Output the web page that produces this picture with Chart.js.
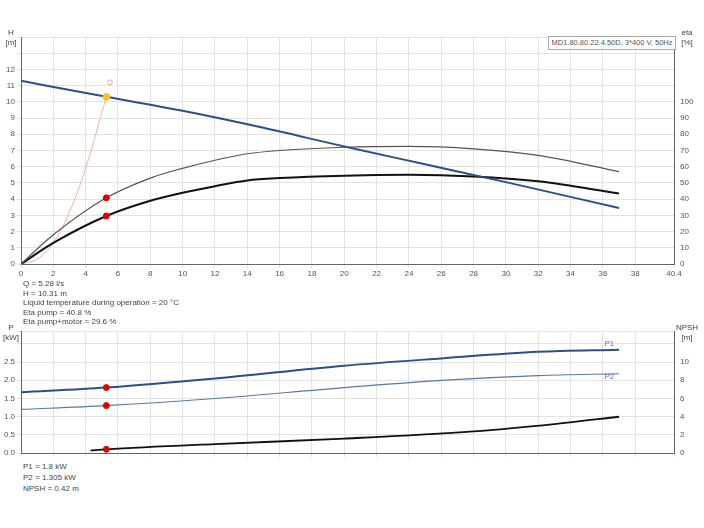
<!DOCTYPE html>
<html>
<head>
<meta charset="utf-8">
<script src="https://cdn.jsdelivr.net/npm/chart.js@4"></script>
<style>
  body { margin: 0; background: #fff; font-family: Arial, "Liberation Sans", sans-serif; }
  #wrap { position: relative; width: 704px; height: 528px; }
  canvas { position: absolute; }
  .txt { position: absolute; font-size: 8px; color: #444; line-height: 9.5px; }
  #title { position: absolute; left: 548px; top: 36px; width: 126px; height: 12px; border: 1px solid #aaa;
           font-size: 7.5px; color: #555; line-height: 12px; text-align: center; background: #fff;
           white-space: nowrap; overflow: hidden; }
</style>
</head>
<body>
<div id="wrap">
  <canvas id="top" width="704" height="252" style="left:0;top:30px;width:704px;height:252px"></canvas>
  <canvas id="bottom" width="704" height="135" style="left:0;top:325px;width:704px;height:135px"></canvas>
  <div id="title">MD1.80.80.22.4.50D, 3*400 V, 50Hz</div>
  <div class="txt" style="left:23px;top:279px">Q = 5.28 l/s<br>H = 10.31 m<br>Liquid temperature during operation = 20 °C<br>Eta pump = 40.8 %<br>Eta pump+motor = 29.6 %</div>
  <div class="txt" style="left:23px;top:461px;line-height:11px">P1 = 1.8 kW<br>P2 = 1.305 kW<br>NPSH = 0.42 m</div>
</div>
<script>
// Q-H curve
const qH = [0, 5.28, 10, 15, 20, 25, 30, 37];
const hVals = [11.3, 10.31, 9.45, 8.4, 7.25, 6.15, 5.05, 3.45];
// efficiency curves (%)
const qEta = [0, 2, 5.28, 8, 10, 12, 14, 16, 20, 24, 28, 32, 37];
const etaPump = [0, 18, 40.8, 53, 59, 64, 68, 70, 72, 72.5, 71, 67, 57];
const etaTotal = [0, 13, 29.6, 39, 44, 48, 51.5, 53, 54.5, 55, 54, 51, 43.5];
// system curve
const qSys = [0, 1, 2, 3, 4, 5.28];
const hSys = [0, 0.3, 1.3, 3.2, 5.9, 10.31];
// power and NPSH
const qP = [0, 5.28, 12, 20, 26, 32, 37];
const p1Vals = [1.67, 1.8, 2.05, 2.4, 2.6, 2.78, 2.84];
const p2Vals = [1.2, 1.305, 1.5, 1.8, 2.0, 2.13, 2.18];
const qNpsh = [4.3, 5.28, 12, 20, 28, 33, 37];
const npshVals = [0.3, 0.42, 1.0, 1.6, 2.4, 3.2, 4.0];

const dutyQ = 5.28;

function pts(xs, ys) { return xs.map((x, i) => ({ x: x, y: ys[i] })); }

const blue = "#2b4f8a";
const grid = "#e3e3e3";
const tickFont = { size: 8, family: "Arial" };

function line(data, color, width, axis) {
  return { data: data, borderColor: color, borderWidth: width, pointRadius: 0,
           cubicInterpolationMode: "monotone", yAxisID: axis, fill: false };
}
function dot(x, y, color, axis, r) {
  return { type: "scatter", data: [{ x: x, y: y }], backgroundColor: color, borderColor: color,
           pointRadius: r || 3, yAxisID: axis };
}

// draws the unit labels at top of axes
function unitPlugin(left, right) {
  return {
    id: "units",
    afterDraw(chart) {
      const c = chart.ctx, a = chart.chartArea;
      c.save();
      c.fillStyle = "#444";
      c.font = "8px Arial";
      c.textAlign = "center";
      c.fillText(left[0], 11, a.top - 2);
      c.fillText(left[1], 11, a.top + 8);
      c.fillText(right[0], a.right + 13, a.top - 2);
      c.fillText(right[1], a.right + 13, a.top + 8);
      c.restore();
    }
  };
}

const fixW = (w) => (s) => { s.width = w; };

new Chart(document.getElementById("top"), {
  type: "line",
  data: {
    datasets: [
      dot(dutyQ, 10.31, "#f5c518", "y", 3.5),
      { type: "scatter", data: [{ x: 5.5, y: 11.2 }], borderColor: "#f0a080", backgroundColor: "transparent",
        pointRadius: 2.5, borderWidth: 0.8, yAxisID: "y" },
      dot(dutyQ, 40.8, "#e00000", "y2"),
      dot(dutyQ, 29.6, "#e00000", "y2"),
      line(pts(qH, hVals), blue, 2, "y"),
      line(pts(qEta, etaPump), "#555", 1.2, "y2"),
      line(pts(qEta, etaTotal), "#111", 2, "y2"),
      line(pts(qSys, hSys), "#f0a080", 0.8, "y")
    ]
  },
  options: {
    responsive: false, animation: false, devicePixelRatio: 1,
    layout: { padding: { top: 7, left: 0, right: 0 } },
    plugins: { legend: { display: false }, tooltip: { enabled: false } },
    scales: {
      x: { type: "linear", min: 0, max: 40.4, afterFit: (s) => { s.height = 18; },
           grid: { color: grid, tickLength: 4 },
           border: { color: "#666" },
           ticks: { stepSize: 2, font: tickFont, color: "#555", maxRotation: 0, padding: 1,
                    callback: (v) => (v === 40 ? "Q [l/s]" : v) } },
      y: { min: 0, max: 14, afterFit: fixW(21),
           grid: { color: grid, tickLength: 4 }, border: { color: "#666" },
           ticks: { stepSize: 1, font: tickFont, color: "#555", padding: 2,
                    callback: (v) => (v <= 12 ? v : "") } },
      y2: { position: "right", min: 0, max: 140, afterFit: fixW(30),
            grid: { display: false, tickLength: 4 }, border: { color: "#666" },
            ticks: { stepSize: 10, font: tickFont, color: "#555", padding: 2,
                     callback: (v) => (v <= 100 ? v : "") } }
    }
  },
  plugins: [unitPlugin(["H", "[m]"], ["eta", "[%]"])]
});

new Chart(document.getElementById("bottom"), {
  type: "line",
  data: {
    datasets: [
      dot(dutyQ, 1.8, "#e00000", "y"),
      dot(dutyQ, 1.305, "#e00000", "y"),
      dot(dutyQ, 0.42, "#e00000", "y2"),
      line(pts(qP, p1Vals), blue, 2, "y"),
      line(pts(qP, p2Vals), "#5a78a8", 1.2, "y"),
      line(pts(qNpsh, npshVals), "#111", 1.8, "y2")
    ]
  },
  options: {
    responsive: false, animation: false, devicePixelRatio: 1,
    layout: { padding: { top: 5 } },
    plugins: { legend: { display: false }, tooltip: { enabled: false } },
    scales: {
      x: { type: "linear", min: 0, max: 40.4, afterFit: (s) => { s.height = 6; },
           grid: { color: grid, tickLength: 4 }, border: { color: "#666" },
           ticks: { stepSize: 2, display: false } },
      y: { min: 0, max: 3.33, afterFit: fixW(21),
           grid: { color: grid, tickLength: 4 }, border: { color: "#666" },
           ticks: { stepSize: 0.5, font: tickFont, color: "#555", padding: 2,
                    callback: (v) => (v <= 2.5 ? v.toFixed(1) : "") } },
      y2: { position: "right", min: 0, max: 13.32, afterFit: fixW(30),
            grid: { display: false, tickLength: 4 }, border: { color: "#666" },
            ticks: { stepSize: 2, font: tickFont, color: "#555", padding: 2,
                     callback: (v) => (v <= 10 ? v : "") } }
    }
  },
  plugins: [unitPlugin(["P", "[kW]"], ["NPSH", "[m]"]), {
    id: "curveLabels",
    afterDraw(chart) {
      const c = chart.ctx, xs = chart.scales.x, ys = chart.scales.y;
      c.save();
      c.font = "8px Arial";
      c.fillStyle = "#5a78a8";
      c.textAlign = "center";
      c.fillText("P1", xs.getPixelForValue(36.4), ys.getPixelForValue(2.93));
      c.fillText("P2", xs.getPixelForValue(36.4), ys.getPixelForValue(2.03));
      c.restore();
    }
  }]
});
</script>
</body>
</html>
